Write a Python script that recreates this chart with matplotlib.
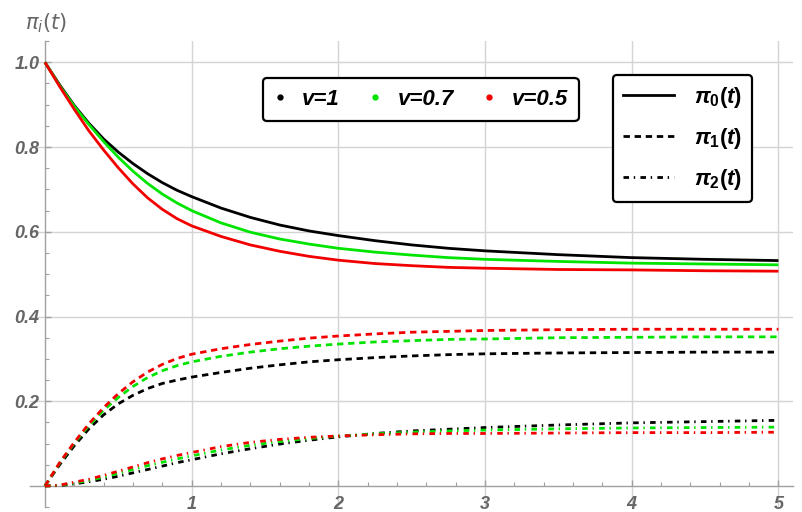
import numpy as np
import matplotlib
matplotlib.use("Agg")
import matplotlib.pyplot as plt
from matplotlib.lines import Line2D
from matplotlib.ticker import FixedLocator, MultipleLocator

# ---------------- data ----------------
t = [0, 0.1, 0.2, 0.3, 0.4, 0.5, 0.6, 0.7, 0.8, 0.9, 1.0,
     1.2, 1.4, 1.6, 1.8, 2.0, 2.25, 2.5, 2.75, 3.0, 3.5, 4.0, 4.5, 5.0]

pi0_v1  = [1.0, 0.947, 0.898, 0.856, 0.819, 0.788, 0.761, 0.737, 0.716, 0.698, 0.683,
           0.656, 0.634, 0.616, 0.602, 0.591, 0.579, 0.569, 0.561, 0.555, 0.546, 0.539, 0.535, 0.532]
pi0_v07 = [1.0, 0.945, 0.896, 0.853, 0.813, 0.776, 0.743, 0.714, 0.689, 0.668, 0.650,
           0.621, 0.599, 0.583, 0.571, 0.561, 0.552, 0.545, 0.539, 0.535, 0.530, 0.526, 0.524, 0.522]
pi0_v05 = [1.0, 0.943, 0.889, 0.838, 0.793, 0.751, 0.713, 0.680, 0.653, 0.631, 0.614,
           0.589, 0.569, 0.554, 0.542, 0.533, 0.525, 0.520, 0.516, 0.514, 0.511, 0.510, 0.508, 0.507]

pi1_v1  = [0.0, 0.050, 0.095, 0.135, 0.168, 0.194, 0.214, 0.230, 0.242, 0.250, 0.257,
           0.268, 0.278, 0.286, 0.293, 0.298, 0.303, 0.307, 0.310, 0.312, 0.314, 0.315, 0.316, 0.316]
pi1_v07 = [0.0, 0.054, 0.101, 0.143, 0.179, 0.209, 0.235, 0.256, 0.272, 0.284, 0.293,
           0.306, 0.316, 0.324, 0.330, 0.335, 0.340, 0.343, 0.346, 0.347, 0.350, 0.351, 0.352, 0.352]
pi1_v05 = [0.0, 0.055, 0.103, 0.147, 0.185, 0.218, 0.246, 0.269, 0.287, 0.301, 0.311,
           0.324, 0.334, 0.342, 0.349, 0.354, 0.359, 0.363, 0.365, 0.367, 0.369, 0.370, 0.370, 0.370]

pi2_v1  = [0.0, 0.001, 0.005, 0.010, 0.016, 0.023, 0.031, 0.039, 0.047, 0.055, 0.062,
           0.076, 0.088, 0.099, 0.108, 0.116, 0.124, 0.130, 0.134, 0.138, 0.144, 0.149, 0.152, 0.155]
pi2_v07 = [0.0, 0.002, 0.007, 0.013, 0.021, 0.030, 0.039, 0.048, 0.056, 0.064, 0.071,
           0.085, 0.096, 0.105, 0.112, 0.118, 0.123, 0.127, 0.130, 0.132, 0.135, 0.137, 0.138, 0.139]
pi2_v05 = [0.0, 0.002, 0.009, 0.016, 0.025, 0.035, 0.045, 0.055, 0.064, 0.072, 0.079,
           0.093, 0.103, 0.110, 0.115, 0.118, 0.121, 0.123, 0.124, 0.124, 0.125, 0.126, 0.126, 0.127]

v_labels = ["v=1", "v=0.7", "v=0.5"]
pi_labels = [r"$\mathit{\pi_0(t)}$", r"$\mathit{\pi_1(t)}$", r"$\mathit{\pi_2(t)}$"]
x_ticks = [1, 2, 3, 4, 5]
x_ticklabels = ["1", "2", "3", "4", "5"]
y_ticks = [0.2, 0.4, 0.6, 0.8, 1.0]
y_ticklabels = ["0.2", "0.4", "0.6", "0.8", "1.0"]

# ---------------- style ----------------
plt.rcParams['lines.scale_dashes'] = False
plt.rcParams['mathtext.fontset'] = 'custom'
plt.rcParams['mathtext.it'] = 'Liberation Sans:italic:bold'
plt.rcParams['mathtext.rm'] = 'Liberation Sans:bold'
plt.rcParams['mathtext.bf'] = 'Liberation Sans:bold'

colors = ['#000000', '#00e400', '#f20000']
solid = '-'
dashed = (0, (4.6, 3.4))
dashdot = (0, (4.0, 3.4, 1.0, 3.8))
LW = 2.0

fig = plt.figure(figsize=(8.03, 5.12), dpi=100)
ax = fig.add_axes([0.0377, 0.0094, 0.950, 0.9103])

series = [
    (pi0_v1, pi0_v07, pi0_v05, solid),
    (pi1_v1, pi1_v07, pi1_v05, dashed),
    (pi2_v1, pi2_v07, pi2_v05, dashdot),
]
for s1, s2, s3, ls in series:
    for ys, c in zip((s1, s2, s3), colors):
        ax.plot(t, ys, color=c, lw=LW, linestyle=ls, solid_capstyle='butt',
                dash_capstyle='butt', solid_joinstyle='round', zorder=3)

ax.set_xlim(-0.1, 5.1)
ax.set_ylim(-0.05, 1.05)

for sp in ['top', 'right']:
    ax.spines[sp].set_visible(False)
ax.spines['left'].set_position(('data', 0))
ax.spines['bottom'].set_position(('data', 0))
for sp in ['left', 'bottom']:
    ax.spines[sp].set_color('#a0a0a0')
    ax.spines[sp].set_linewidth(1.0)

ax.xaxis.set_major_locator(FixedLocator(x_ticks))
ax.yaxis.set_major_locator(FixedLocator(y_ticks))
ax.set_xticklabels(x_ticklabels)
ax.set_yticklabels(y_ticklabels)
ax.xaxis.set_minor_locator(MultipleLocator(0.2))
ax.yaxis.set_minor_locator(MultipleLocator(0.05))

for lab in ax.get_xticklabels() + ax.get_yticklabels():
    lab.set_fontfamily('Liberation Sans')
    lab.set_fontweight('bold')
    lab.set_fontstyle('italic')
    lab.set_fontsize(13)
    lab.set_color('#666666')

ax.tick_params(axis='both', which='major', direction='in', length=4, width=1, color='#a0a0a0')
ax.tick_params(axis='both', which='minor', direction='in', length=3, width=0.8, color='#a0a0a0')
ax.tick_params(axis='x', which='major', pad=7)
ax.tick_params(axis='y', which='major', pad=4)

ax.grid(True, which='major', color='#d4d4d4', lw=1.0, zorder=0)
ax.set_axisbelow(True)

fig.text(46 / 803, 1 - 23 / 512, r"$\pi_i(t)$", ha='center', va='center',
         fontsize=15, color='#666666', math_fontfamily='dejavusans')

# ---------------- legends ----------------
v_handles = [Line2D([], [], linestyle='none', marker='o', markersize=3.5,
                    color=c) for c in colors]
leg1 = ax.legend(v_handles, v_labels, loc='upper left',
                 bbox_to_anchor=(263 / 803, 1 - 78 / 512), bbox_transform=fig.transFigure,
                 ncol=3, handlelength=0.5, handletextpad=0.75, columnspacing=1.35,
                 borderpad=0.5, borderaxespad=0, fancybox=True, framealpha=1,
                 edgecolor='black',
                 prop=dict(family='Liberation Sans', weight='bold', style='italic', size=16))
leg1.get_frame().set_linewidth(1.6)
ax.add_artist(leg1)

s_handles = [Line2D([], [], color='black', lw=LW, linestyle=ls) for ls in (solid, dashed, dashdot)]
leg2 = ax.legend(s_handles, pi_labels, loc='upper left',
                 bbox_to_anchor=(613 / 803, 1 - 75 / 512), bbox_transform=fig.transFigure,
                 handlelength=2.3, handletextpad=0.9, labelspacing=0.72,
                 borderpad=0.45, borderaxespad=0, fancybox=True, framealpha=1,
                 edgecolor='black', prop=dict(size=16))
leg2.get_frame().set_linewidth(1.6)

fig.savefig('out.png', dpi=100)
